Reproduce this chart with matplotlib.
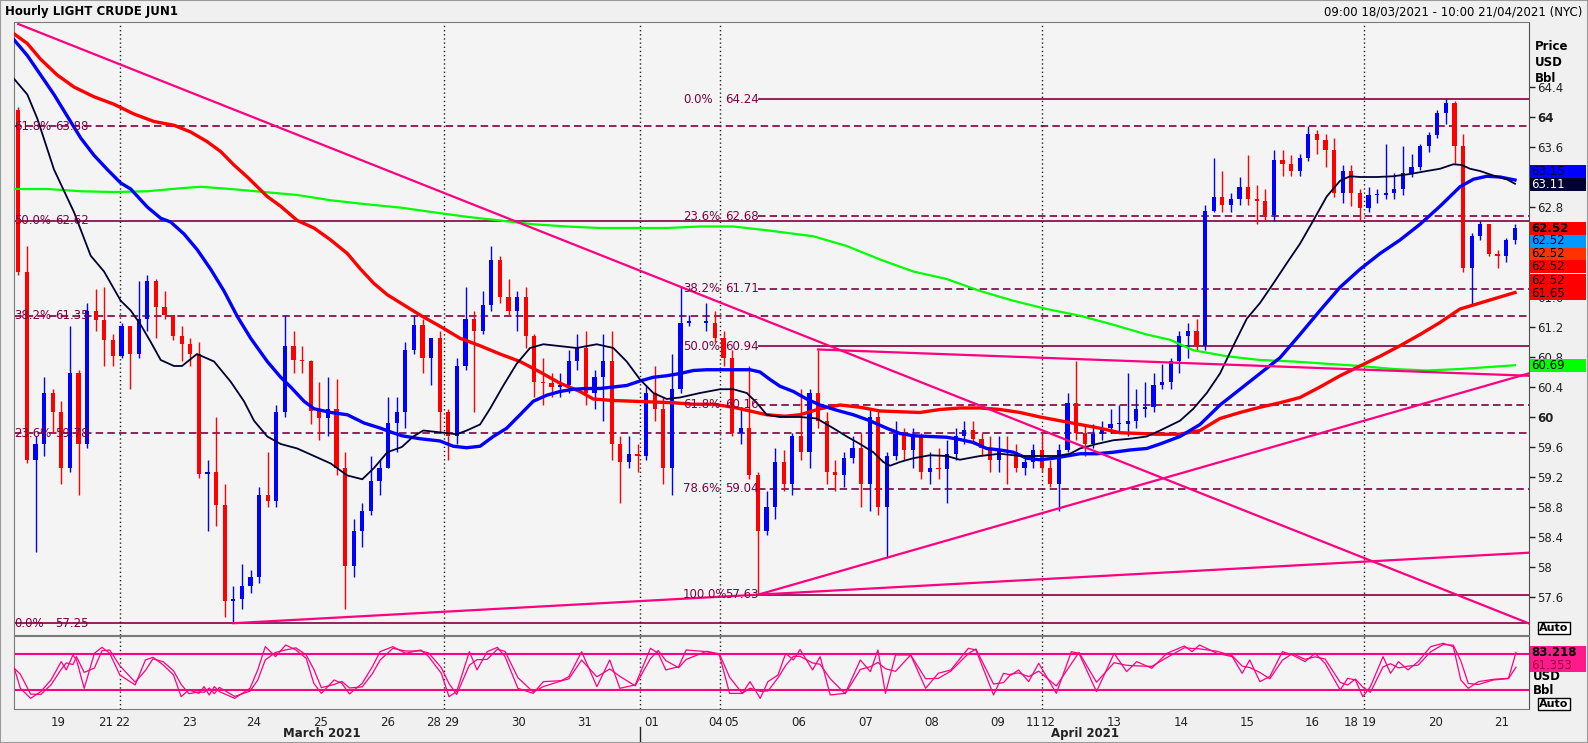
import matplotlib
matplotlib.use("Agg")
import matplotlib.pyplot as plt
from matplotlib.patches import Rectangle
import numpy as np

plt.rcParams['font.family'] = ['DejaVu Sans']

W, H = 1588, 743
nan = float('nan')

# 3-hour candles (oldest first); open = previous close
first_open = 64.09
closes = [
    61.94, 59.43, 59.64, 60.32, 60.06, 59.32, 60.58, 59.64, 61.42, 61.29,
    61.02, 60.81, 61.21, 60.84, 61.31, 61.81, 61.47, 61.36, 61.08, 60.97,
    60.84, 59.24, 59.27, 58.82, 57.54, 57.57, 57.75, 57.86, 58.96, 58.88,
    60.06, 60.95, 60.76, 60.74, 60.08, 59.98, 60.11, 59.32, 58.01, 58.48,
    58.75, 59.14, 59.32, 59.92, 60.06, 60.89, 61.23, 60.79, 61.05, 60.06,
    59.74, 60.68, 61.31, 61.15, 61.50, 62.10, 61.60, 61.42, 61.60, 61.08,
    60.47, 60.45, 60.40, 60.42, 60.74, 60.92, 60.32, 60.53, 60.74, 59.64,
    59.40, 59.51, 59.48, 60.32, 60.11, 59.32, 60.37, 61.26, 61.26, nan,
    61.26, 61.05, 60.79, 59.79, 59.85, 59.22, 58.48, 58.80, 59.40, 59.11,
    59.74, 59.53, 60.32, 59.95, 59.27, 59.22, 59.45, 59.58, 59.11, 60.00,
    58.80, 59.48, 59.77, 59.56, 59.74, 59.27, 59.32, 59.30, 59.51, 59.74,
    59.82, 59.71, 59.58, 59.43, 59.56, 59.53, 59.32, 59.40, 59.56, 59.32,
    59.11, 59.56, 60.19, 59.79, 59.64, 59.77, 59.85, 59.90, 59.90, 59.95,
    60.11, 60.13, 60.42, 60.47, 60.74, 61.08, 61.15, 60.95, 62.75, 62.94,
    62.83, 62.91, 63.07, 62.91, 62.88, 62.70, 63.43, 63.38, 63.28, 63.45,
    63.77, 63.70, 63.56, 62.99, 63.28, 62.99, 62.79, 62.96, 62.96, 62.99,
    63.04, 63.25, 63.34, 63.61, 63.76, 64.05, 64.19, 63.62, 61.99, 62.42,
    62.57, 62.18, 62.15, 62.36, 62.52]
highs = [
    64.14, 62.28, 59.74, 60.53, 60.37, 60.21, 61.21, 60.63, 61.52, 61.71,
    61.73, 61.10, 61.26, 61.21, 61.81, 61.89, 61.84, 61.68, 61.36, 61.21,
    61.05, 61.00, 59.43, 60.00, 59.11, 57.75, 58.04, 57.96, 59.06, 59.53,
    60.16, 61.36, 61.15, 60.95, 60.76, 60.47, 60.53, 60.50, 59.53, 58.64,
    58.85, 59.48, 59.43, 60.26, 60.26, 61.00, 61.36, 61.31, 61.05, 61.15,
    60.11, 60.79, 61.73, 61.42, 61.68, 62.28, 62.15, 61.84, 61.68, 61.73,
    61.10, 60.79, 60.58, 60.58, 60.89, 61.10, 61.15, 60.63, 61.10, 61.15,
    59.74, 59.74, 59.64, 60.42, 60.68, 60.26, 60.84, 61.73, 61.36, nan,
    61.52, 61.42, 61.15, 60.89, 60.11, 60.68, 59.27, 59.01, 59.58, 59.56,
    59.79, 60.37, 60.37, 60.89, 60.06, 59.43, 59.53, 59.74, 59.79, 60.11,
    60.11, 59.53, 59.95, 59.85, 59.85, 59.79, 59.53, 59.58, 59.69, 59.85,
    59.95, 59.95, 59.79, 59.74, 59.74, 59.74, 59.64, 59.48, 59.64, 59.77,
    59.43, 59.64, 60.32, 60.74, 59.90, 59.90, 59.95, 60.11, 60.16, 60.58,
    60.37, 60.47, 60.58, 60.71, 60.79, 61.15, 61.26, 61.31, 62.83, 63.46,
    63.28, 62.99, 63.20, 63.49, 63.09, 63.04, 63.56, 63.56, 63.49, 63.51,
    63.88, 63.83, 63.77, 63.72, 63.36, 63.36, 63.04, 63.07, 63.04, 63.64,
    63.25, 63.62, 63.51, 63.64, 63.80, 64.09, 64.24, 64.22, 63.77, 62.46,
    62.62, 62.54, 62.23, 62.39, 62.57]
lows = [
    61.89, 59.38, 58.20, 59.48, 59.79, 59.11, 59.27, 58.96, 59.58, 61.15,
    60.68, 60.68, 60.79, 60.37, 60.79, 61.15, 61.05, 61.31, 61.02, 60.74,
    60.68, 59.19, 58.48, 58.54, 57.33, 57.25, 57.44, 57.65, 57.78, 58.80,
    58.80, 60.00, 60.58, 60.58, 59.90, 59.69, 59.74, 59.22, 57.44, 57.86,
    58.27, 58.69, 58.96, 59.32, 59.53, 59.85, 60.84, 60.58, 60.42, 59.79,
    59.43, 59.64, 60.63, 60.06, 61.10, 61.42, 61.52, 61.36, 61.15, 60.92,
    60.26, 60.16, 60.26, 60.26, 60.32, 60.63, 60.16, 60.11, 59.95, 59.43,
    58.85, 59.32, 59.27, 59.43, 59.95, 59.11, 58.96, 60.32, 61.21, nan,
    61.15, 61.00, 60.68, 59.74, 59.64, 59.17, 57.63, 58.43, 58.64, 59.01,
    58.96, 59.43, 59.32, 59.85, 59.11, 59.01, 59.06, 59.38, 58.80, 58.75,
    58.69, 58.12, 59.43, 59.43, 59.32, 59.17, 59.11, 59.17, 58.85, 59.43,
    59.64, 59.64, 59.48, 59.27, 59.27, 59.11, 59.27, 59.22, 59.32, 59.27,
    59.06, 58.75, 59.53, 59.69, 59.48, 59.58, 59.69, 59.79, 59.79, 59.74,
    59.85, 60.00, 60.06, 60.37, 60.37, 60.58, 60.79, 60.89, 60.89, 62.73,
    62.73, 62.73, 62.83, 62.83, 62.57, 62.62, 62.62, 63.22, 63.22, 63.22,
    63.41, 63.51, 63.33, 62.94, 62.86, 62.81, 62.62, 62.73, 62.86, 62.91,
    62.91, 62.96, 63.20, 63.30, 63.54, 63.72, 63.91, 63.38, 61.94, 61.50,
    62.36, 62.15, 61.99, 62.07, 62.31]

# moving averages, sampled at candle positions
black_x = [-0.5, 1.05, 2.21, 4.15, 6.48, 8.42, 9.97, 11.91, 13.07, 14.23,
           15.40, 16.56, 18.10, 19.03, 20.78, 22.76, 24.70, 26.24, 27.41, 28.95,
           30.51, 32.44, 34.38, 36.33, 38.26, 40.0, 41.36, 42.91, 44.6, 45.93,
           47.09, 49.42, 50.98, 52.14, 53.69, 54.85, 56.40, 57.95, 59.50, 61.05,
           62.60, 64.93, 67.26, 69.19, 70.74, 72.29, 73.84, 75.40, 76.94, 79.27,
           81.59, 83.14, 84.70, 85.86, 87.02, 88.57, 90.90, 92.84, 94.77, 96.33,
           97.87, 99.42, 100.58, 101.36, 102.52, 104.07, 106.01, 107.95, 109.48, 111.83,
           114.15, 116.48, 118.80, 120.74, 122.29, 123.45, 125.40, 127.33, 129.27, 131.21,
           132.76, 135.08, 136.63, 138.19, 139.73, 141.28, 142.84, 144.38, 145.93, 147.49,
           149.03, 150.58, 152.14, 153.69, 154.85, 156.01, 157.95, 159.88, 161.83, 163.77,
           165.31, 166.86, 167.84, 168.80, 169.97, 171.51, 173.07, 174.03]
black_y = [64.51, 64.30, 63.98, 63.30, 62.73, 62.15, 61.94, 61.55, 61.42, 61.23,
           61.00, 60.76, 60.68, 60.68, 60.84, 60.74, 60.47, 60.21, 59.95, 59.74,
           59.64, 59.58, 59.48, 59.38, 59.22, 59.17, 59.32, 59.53, 59.60, 59.74,
           59.82, 59.79, 59.77, 59.82, 59.90, 60.11, 60.42, 60.71, 60.92, 60.97,
           60.95, 60.92, 60.97, 60.92, 60.74, 60.50, 60.32, 60.24, 60.26, 60.32,
           60.37, 60.37, 60.32, 60.19, 60.03, 60.00, 60.00, 59.98, 59.85, 59.74,
           59.64, 59.53, 59.40, 59.35, 59.40, 59.45, 59.49, 59.48, 59.43, 59.48,
           59.51, 59.48, 59.48, 59.48, 59.51, 59.58, 59.64, 59.69, 59.71, 59.74,
           59.82, 59.95, 60.11, 60.32, 60.58, 60.95, 61.31, 61.52, 61.78, 62.05,
           62.31, 62.62, 62.94, 63.15, 63.21, 63.20, 63.20, 63.21, 63.24, 63.28,
           63.31, 63.37, 63.36, 63.31, 63.28, 63.22, 63.17, 63.11]

blue_x = [-0.5, 1.05, 2.60, 4.15, 5.70, 7.26, 8.80, 10.35, 11.91, 13.07,
          15.0, 16.56, 17.72, 19.27, 20.81, 22.37, 23.92, 25.47, 27.02, 28.95,
          30.51, 31.67, 33.22, 34.38, 36.33, 38.26, 40.20, 42.14, 43.30, 44.6,
          46.71, 49.03, 50.58, 52.14, 53.69, 55.23, 56.79, 58.34, 59.88, 61.44,
          62.99, 64.53, 66.09, 67.64, 69.19, 70.74, 72.29, 73.84, 75.40, 76.94,
          78.49, 80.05, 81.59, 83.14, 85.08, 86.24, 87.41, 88.57, 90.12, 91.67,
          93.22, 95.16, 97.09, 99.03, 100.98, 102.52, 104.07, 106.01, 107.95, 109.48,
          111.05, 112.60, 114.15, 115.70, 117.26, 118.80, 120.35, 121.91, 123.45, 125.40,
          127.33, 129.27, 131.21, 132.76, 135.08, 137.41, 139.73, 142.06, 144.38, 146.71,
          149.03, 151.36, 153.69, 156.01, 158.34, 160.66, 162.99, 165.31, 167.64, 169.19,
          170.74, 172.29, 174.03]
blue_y = [65.03, 64.82, 64.56, 64.30, 64.01, 63.72, 63.49, 63.30, 63.12, 63.04,
          62.80, 62.65, 62.60, 62.44, 62.23, 61.97, 61.68, 61.34, 61.05, 60.74,
          60.53, 60.40, 60.21, 60.11, 60.06, 60.03, 59.92, 59.85, 59.80, 59.75,
          59.71, 59.68, 59.61, 59.59, 59.61, 59.74, 59.85, 60.03, 60.21, 60.29,
          60.34, 60.37, 60.38, 60.38, 60.40, 60.42, 60.48, 60.53, 60.55, 60.58,
          60.62, 60.63, 60.63, 60.63, 60.63, 60.60, 60.50, 60.41, 60.34, 60.24,
          60.16, 60.09, 60.03, 59.95, 59.85, 59.78, 59.75, 59.74, 59.73, 59.70,
          59.66, 59.58, 59.56, 59.53, 59.45, 59.43, 59.45, 59.48, 59.51, 59.51,
          59.53, 59.56, 59.58, 59.64, 59.74, 59.90, 60.16, 60.37, 60.58, 60.79,
          61.10, 61.42, 61.73, 61.97, 62.18, 62.36, 62.57, 62.81, 63.07, 63.17,
          63.21, 63.20, 63.16]

red_x = [-0.5, 1.05, 2.60, 4.53, 6.48, 8.80, 11.13, 13.45, 15.78, 18.10,
         20.05, 21.98, 23.53, 25.08, 26.63, 28.95, 30.51, 32.44, 34.38, 36.33,
         38.26, 39.81, 41.36, 42.91, 44.6, 46.71, 49.03, 51.36, 53.69, 56.01,
         58.34, 60.66, 62.99, 65.31, 66.86, 69.19, 71.51, 73.84, 76.16, 78.49,
         80.81, 83.14, 85.08, 87.02, 89.15, 90.90, 93.22, 95.55, 97.87, 100.20,
         102.52, 104.85, 107.17, 109.48, 111.83, 114.15, 116.48, 118.80, 121.13, 123.45,
         125.78, 128.10, 130.43, 132.37, 135.08, 137.41, 139.73, 142.06, 144.38, 146.71,
         149.03, 151.36, 153.69, 156.01, 158.34, 160.66, 162.99, 165.31, 167.64, 169.97,
         172.29, 174.03]
red_y = [65.11, 64.98, 64.77, 64.56, 64.40, 64.27, 64.17, 64.04, 63.94, 63.89,
         63.80, 63.67, 63.54, 63.36, 63.20, 62.94, 62.81, 62.62, 62.52, 62.36,
         62.18, 61.97, 61.78, 61.63, 61.51, 61.36, 61.21, 61.05, 60.95, 60.84,
         60.74, 60.60, 60.45, 60.34, 60.24, 60.22, 60.21, 60.20, 60.19, 60.17,
         60.17, 60.13, 60.08, 60.03, 60.01, 60.03, 60.11, 60.16, 60.13, 60.08,
         60.07, 60.06, 60.10, 60.12, 60.12, 60.10, 60.06, 60.00, 59.95, 59.90,
         59.85, 59.79, 59.78, 59.77, 59.77, 59.82, 59.98, 60.06, 60.13, 60.19,
         60.26, 60.40, 60.55, 60.68, 60.81, 60.95, 61.10, 61.26, 61.44, 61.52,
         61.60, 61.66]

green_x = [-0.5, 3.37, 7.26, 11.13, 15.0, 18.88, 21.21, 24.70, 28.57, 32.44,
           36.33, 40.20, 44.6, 48.26, 52.14, 56.01, 59.88, 63.77, 67.64, 71.51,
           75.40, 79.27, 83.14, 87.02, 89.73, 92.44, 96.33, 100.20, 104.07, 107.95,
           111.83, 115.70, 119.58, 123.45, 127.33, 131.21, 133.92, 136.63, 140.51, 144.38,
           148.26, 152.14, 156.01, 159.88, 163.77, 167.64, 171.51, 174.03]
green_y = [63.04, 63.04, 63.01, 63.00, 63.01, 63.05, 63.07, 63.04, 63.00, 62.96,
           62.89, 62.84, 62.79, 62.73, 62.67, 62.62, 62.57, 62.54, 62.52, 62.52,
           62.52, 62.54, 62.54, 62.49, 62.45, 62.41, 62.28, 62.10, 61.94, 61.84,
           61.68, 61.55, 61.44, 61.35, 61.23, 61.10, 61.03, 60.89, 60.81, 60.76,
           60.74, 60.71, 60.68, 60.64, 60.62, 60.64, 60.67, 60.69]

# drawn trendlines: (start idx, start price, end idx, end price)
trend_lines = [(0.0, 65.24, 175.6, 57.25),
               (25.0, 57.25, 175.6, 58.19),
               (86.0, 57.63, 175.6, 60.58),
               (93.0, 60.90, 175.6, 60.55)]

# fibonacci retracements
fib_a_levels = [57.25, 59.78, 61.35, 62.62, 63.88]
fib_a_pcts = ['0.0%', '23.6%', '38.2%', '50.0%', '61.8%']
fib_b_levels = [64.24, 62.68, 61.71, 60.94, 60.16, 59.04, 57.63]
fib_b_pcts = ['0.0%', '23.6%', '38.2%', '50.0%', '61.8%', '78.6%', '100.0%']
fib_b_start = 86

# stochastic oscillator (%K) turning points
osc_x = [-0.47, 0.24, 1.43, 2.62, 3.80, 4.99, 5.58, 6.36, 6.77, 7.66,
         8.85, 9.73, 10.63, 11.81, 13.59, 14.78, 15.66, 16.86, 18.05, 18.93,
         19.83, 21.01, 21.60, 22.20, 22.79, 23.38, 25.16, 26.94, 27.84, 28.72,
         29.91, 31.09, 32.28, 33.47, 34.36, 35.24, 36.73, 37.62, 38.51, 39.99,
         41.17, 42.07, 43.56, 45.03, 46.81, 47.71, 49.19, 50.08, 50.97, 52.45,
         53.34, 54.52, 55.71, 56.60, 58.09, 59.87, 61.06, 63.13, 64.02, 65.50,
         67.28, 68.77, 69.95, 71.73, 73.51, 74.41, 75.29, 76.78, 77.66, 80.04,
         81.52, 82.71, 84.19, 85.08, 86.27, 87.16, 88.34, 89.23, 90.13, 90.90,
         92.36, 93.23, 94.41, 96.15, 97.91, 99.08, 99.95, 100.83, 102.0, 103.76,
         105.50, 106.97, 108.43, 110.47, 111.35, 113.40, 114.56, 115.44, 116.31, 117.48,
         118.65, 120.70, 122.45, 123.33, 125.37, 127.42, 128.87, 130.05, 131.80, 133.55,
         135.59, 136.48, 137.35, 139.40, 141.15, 142.31, 143.19, 144.36, 145.52, 146.99,
         148.16, 149.62, 150.79, 151.95, 153.71, 154.58, 155.47, 156.34, 157.22, 158.69,
         159.56, 160.49, 161.59, 162.77, 164.23, 165.69, 166.86, 167.73, 168.60, 169.78,
         171.53, 173.28, 174.15]
osc_k = [56.7, 23.3, 6.6, 17.8, 37.2, 67.8, 53.9, 78.9, 70.5, 23.3,
         81.6, 91.6, 81.6, 45.5, 28.9, 70.5, 75.0, 62.2, 45.5, 9.4,
         20.5, 14.9, 26.1, 12.2, 26.1, 17.8, 6.6, 23.3, 53.9, 92.8,
         76.1, 95.5, 87.2, 73.3, 31.6, 14.9, 37.2, 31.6, 13.9, 31.6,
         59.4, 84.4, 92.8, 81.6, 87.2, 76.1, 48.3, 9.4, 17.8, 84.4,
         53.9, 84.4, 91.6, 76.1, 23.3, 14.9, 34.4, 36.1, 42.8, 84.4,
         26.1, 70.5, 23.3, 28.9, 90.0, 81.6, 53.9, 59.4, 87.2, 84.4,
         78.9, 14.9, 14.9, 34.4, 6.6, 34.4, 45.5, 81.6, 70.5, 88.0,
         53.9, 76.1, 12.2, 14.9, 70.5, 51.1, 87.2, 14.9, 78.9, 78.9,
         23.3, 48.3, 53.9, 90.0, 87.2, 12.2, 48.3, 45.5, 53.9, 34.4,
         65.0, 14.9, 84.4, 81.6, 17.8, 81.6, 51.1, 67.8, 56.7, 81.6,
         93.9, 84.4, 95.5, 81.6, 76.1, 48.3, 70.5, 34.4, 42.8, 84.4,
         78.9, 67.8, 81.6, 65.0, 20.5, 40.0, 37.2, 9.4, 26.1, 76.1,
         48.3, 67.8, 53.9, 67.8, 92.8, 98.3, 92.8, 37.2, 23.3, 34.4,
         38.3, 40.0, 83.2]

day_pos = [4.6, 10.1, 12.1, 19.9, 27.4, 35.2, 43.0, 48.3, 50.4, 58.2, 65.8,
           73.6, 81.1, 82.9, 90.7, 98.5, 106.2, 113.9, 118.0, 119.8, 127.4,
           135.2, 142.9, 150.5, 155.0, 157.1, 164.8, 172.5]
day_labels = ['19', '21', '22', '23', '24', '25', '26', '28', '29', '30', '31',
              '01', '04', '05', '06', '07', '08', '09', '11', '12', '13',
              '14', '15', '16', '18', '19', '20', '21']
week_breaks = [11.8, 49.5, 72.3, 81.6, 119.0, 156.5]
months = [(35.3, 'March 2021'), (124.0, 'April 2021')]
price_ticks = [57.6, 58.0, 58.4, 58.8, 59.2, 59.6, 60.0, 60.4, 60.8, 61.2,
               61.6, 62.0, 62.4, 62.8, 63.2, 63.6, 64.0, 64.4]
covered_ticks = [62.0, 62.4, 63.2]   # hidden behind the value tags

tag_vals = [63.15, 63.11, 62.52, 62.52, 62.52, 62.52, 62.52, 61.65, 60.69]
tag_faces = ['#0000ff', '#000033', '#ff0000', '#0099ff', '#ff3300',
             '#ff0000', '#ff0000', '#ff0000', '#00ff00']
tag_inks = ['#000040', '#ffffff', '#000000', '#000040', '#000000',
            '#000000', '#000000', '#000000', '#000000']
tag_slots = [171.7, 184.3, 228.3, 241.0, 254.0, 266.7, 280.0, 293.3, 365.7]
osc_tags = [(83.218, 652.5, '#000000', 'bold'), (61.353, 665.5, '#a0003a', 'normal')]

FIB = '#800040'
PINK = '#ff0080'

fig = plt.figure(figsize=(W / 100, H / 100), dpi=100)
fig.patch.set_facecolor('#f0f0f0')


def fx(px):
    return px / W


def fy(px):
    return 1 - px / H


L, R = 14, 1529
ax = fig.add_axes([fx(L), fy(635), fx(R) - fx(L), fy(22) - fy(635)])
osc = fig.add_axes([fx(L), fy(709), fx(R) - fx(L), fy(636) - fy(709)])
for a in (ax, osc):
    a.set_facecolor('#f4f4f4')
    a.set_xlim(-0.5, 175.66)
    for s in a.spines.values():
        s.set_color('#7a7a7a')
    a.spines['right'].set_color('#505050')
ax.set_ylim(57.093, 65.267)
osc.set_ylim(-11.2, 110.5)

# fib levels
for lvl, pct in zip(fib_a_levels, fib_a_pcts):
    ls = '-' if pct in ('0.0%', '50.0%') else (0, (4.5, 2.5))
    ax.hlines(lvl, -0.5, 175.66, color=FIB, lw=1.2, ls=ls, zorder=1)
    ax.text(-0.45, lvl, pct, color=FIB, fontsize=8.5, va='center', ha='left', zorder=6, clip_on=True)
    ax.text(4.3, lvl, f'{lvl:.2f}', color=FIB, fontsize=8.5, va='center', ha='left', zorder=6)
for lvl, pct in zip(fib_b_levels, fib_b_pcts):
    ls = '-' if pct in ('0.0%', '50.0%', '100.0%') else (0, (4.5, 2.5))
    ax.hlines(lvl, fib_b_start, 175.66, color=FIB, lw=1.2, ls=ls, zorder=1)
    ax.text(fib_b_start - 8.7, lvl, pct, color=FIB, fontsize=8.5, va='center', ha='left', zorder=6)
    ax.text(fib_b_start - 3.8, lvl, f'{lvl:.2f}', color=FIB, fontsize=8.5, va='center', ha='left', zorder=6)

for a in (ax, osc):
    for xb in week_breaks:
        a.axvline(xb, color='#222222', lw=1.0, ls=(0, (1, 2)), zorder=1.5)

# candles
c = np.array(closes, float)
o = np.empty_like(c)
prev = first_open
for i, v in enumerate(c):
    o[i] = prev
    if not np.isnan(v):
        prev = v
h = np.fmax(np.array(highs, float), np.fmax(o, c))
lo = np.fmin(np.array(lows, float), np.fmin(o, c))
idx = np.arange(len(c))
ok = ~np.isnan(c)
for mask, col in ((ok & (c >= o), '#0000ff'), (ok & (c < o), '#ff0000')):
    ax.vlines(idx[mask], lo[mask], h[mask], color=col, lw=1.0, zorder=3)
    ax.bar(idx[mask], np.maximum(np.abs(c - o)[mask], 0.02), bottom=np.fmin(o, c)[mask],
           width=0.5, color=col, linewidth=0, zorder=3)

ax.plot(green_x, green_y, color='#00ff00', lw=1.6, zorder=4)
ax.plot(red_x, red_y, color='#ff0000', lw=2.4, zorder=4)
ax.plot(blue_x, blue_y, color='#0000ff', lw=2.4, zorder=4)
ax.plot(black_x, black_y, color='#000033', lw=1.3, zorder=5)
for x0, y0, x1, y1 in trend_lines:
    ax.plot([x0, x1], [y0, y1], color=PINK, lw=1.6, zorder=5.5)

# axes ticks
ax.tick_params(axis='x', bottom=False, labelbottom=False)
ax.yaxis.tick_right()
ax.set_yticks(price_ticks)
ax.set_yticklabels(['' if t in covered_ticks else f'{t:g}' for t in price_ticks])
ax.tick_params(axis='y', direction='out', length=4, width=1, colors='#222222', labelsize=8.5, pad=2)
for t, lab in zip(price_ticks, ax.get_yticklabels()):
    if t in (60.0, 64.0):
        lab.set_fontweight('bold')

# oscillator
osc.axhline(80, color=PINK, lw=1.5, zorder=2)
osc.axhline(20, color=PINK, lw=1.5, zorder=2)
osc_d = np.interp(np.array(osc_x) - 0.5, osc_x, osc_k)
osc.plot(osc_x, osc_d, color=PINK, lw=0.9, zorder=3)
osc.plot(osc_x, osc_k, color=PINK, lw=0.9, zorder=3)
osc.set_yticks([])
osc.set_xticks(day_pos)
osc.set_xticklabels(day_labels)
osc.tick_params(axis='x', length=0, pad=5, labelsize=8.5, colors='#222222')
for xm, name in months:
    osc.text(xm, -0.33, name, transform=osc.get_xaxis_transform(), ha='center', va='center',
             fontsize=8.5, fontweight='bold', color='#222222')
osc.plot([72.3, 72.3], [-0.25, -0.47], transform=osc.get_xaxis_transform(),
         color='#222222', lw=1, clip_on=False)


def tag(y_px, text, face, ink, weight='normal', hgt=13):
    fig.add_artist(Rectangle((fx(1530), fy(y_px + hgt / 2)), fx(56), hgt / H,
                             transform=fig.transFigure, facecolor=face, edgecolor='none', zorder=5))
    fig.text(fx(1531), fy(y_px), text, color=ink, fontsize=8.5, fontweight=weight,
             va='center', ha='left', zorder=6)


for k, (v, face, ink, slot) in enumerate(zip(tag_vals, tag_faces, tag_inks, tag_slots)):
    tag(slot, f'{v:.2f}', face, ink, 'bold' if k == 2 else 'normal')
fig.text(fx(1533), fy(677), 'USD', fontsize=8.5, fontweight='bold', va='center')
fig.text(fx(1533), fy(690), 'Bbl', fontsize=8.5, fontweight='bold', va='center')
for v, slot, ink, wt in osc_tags:
    tag(slot, f'{v:.3f}', '#ff1a8c', ink, wt)

for y_px, s in ((46, 'Price'), (62, 'USD'), (78, 'Bbl')):
    fig.text(fx(1535), fy(y_px), s, fontsize=8.5, fontweight='bold', va='center')
for y_px in (628, 704):
    fig.text(fx(1539), fy(y_px), 'Auto', fontsize=8, fontweight='bold', va='center',
             bbox=dict(boxstyle='square,pad=0.12', fc='white', ec='black', lw=1))

fig.text(fx(5), fy(11), 'Hourly LIGHT CRUDE JUN1', fontsize=8.5, fontweight='bold', va='center')
fig.text(fx(1582), fy(12), '09:00 18/03/2021 - 10:00 21/04/2021 (NYC)', fontsize=8.5,
         va='center', ha='right')
fig.add_artist(Rectangle((0, 0), 1, 1, transform=fig.transFigure, fill=False,
                         edgecolor='#9a9a9a', lw=1.5))

fig.savefig('out.png', dpi=100, facecolor=fig.get_facecolor())
